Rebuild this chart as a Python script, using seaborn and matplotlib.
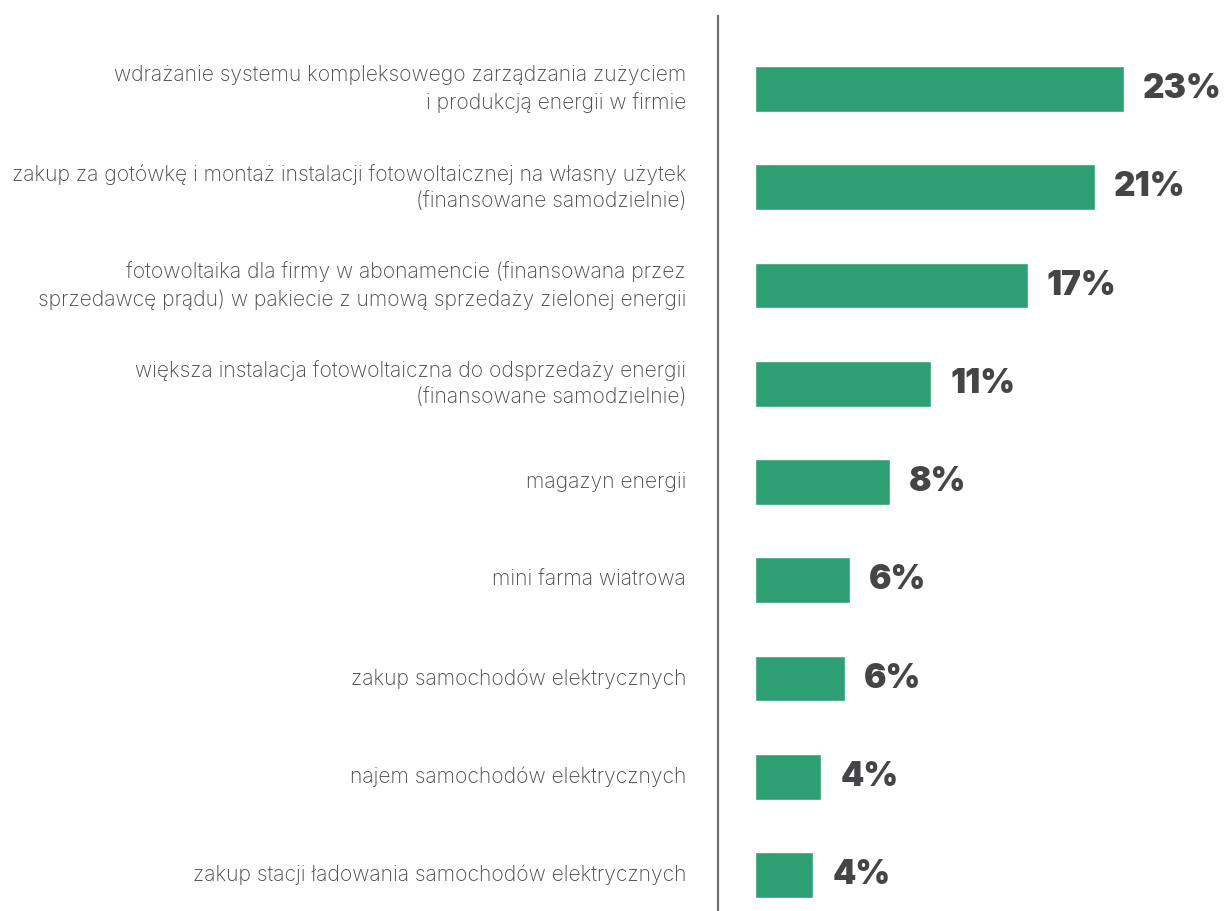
import matplotlib
matplotlib.use("Agg")
import matplotlib.pyplot as plt
import seaborn as sns
import pandas as pd

categories = [
    "wdrażanie systemu kompleksowego zarządzania zużyciem\ni produkcją energii w firmie",
    "zakup za gotówkę i montaż instalacji fotowoltaicznej na własny użytek\n(finansowane samodzielnie)",
    "fotowoltaika dla firmy w abonamencie (finansowana przez\nsprzedawcę prądu) w pakiecie z umową sprzedaży zielonej energii",
    "większa instalacja fotowoltaiczna do odsprzedaży energii\n(finansowane samodzielnie)",
    "magazyn energii",
    "mini farma wiatrowa",
    "zakup samochodów elektrycznych",
    "najem samochodów elektrycznych",
    "zakup stacji ładowania samochodów elektrycznych",
]
values = [23.0, 21.2, 17.0, 11.0, 8.4, 5.9, 5.6, 4.1, 3.6]
value_labels = ["23%", "21%", "17%", "11%", "8%", "6%", "6%", "4%", "4%"]

df = pd.DataFrame({"category": categories, "value": values})

sns.set_theme(style="white")
plt.rcParams["font.family"] = ["Inter", "DejaVu Sans"]

W, H = 1227, 911
fig = plt.figure(figsize=(W / 100, H / 100), dpi=100)
px_per_unit = 16.03
x_left_px, x_right_px = 718, 1225
ax = fig.add_axes([x_left_px / W, 0, (x_right_px - x_left_px) / W, 1])

sns.barplot(data=df, y="category", x="value", orient="h", color="#2E9E73",
            width=0.468, saturation=1, ax=ax)

x0 = -(755 - x_left_px) / px_per_unit
x1 = x0 + (x_right_px - x_left_px) / px_per_unit
ax.set_xlim(x0, x1)
step = 98.25
ax.set_ylim(8 + 36 / step, -89 / step)

for s in ["top", "right", "bottom"]:
    ax.spines[s].set_visible(False)
ax.spines["left"].set_color("#6f6f6f")
ax.spines["left"].set_linewidth(1.6)
ax.spines["left"].set_bounds(-89 / step + 16 / step, 8 + 36 / step)

ax.set_xticks([])
ax.set_xlabel("")
ax.set_ylabel("")
ax.tick_params(axis="y", length=0, pad=23)
for t in ax.get_yticklabels():
    t.set_fontsize(15.2)
    t.set_fontweight("light")
    t.set_color("#4a4a4a")
    t.set_linespacing(1.4)
    t.set_verticalalignment("center")

ax.bar_label(ax.containers[0], labels=value_labels, padding=14,
             fontsize=24, fontweight="black", color="#454547",
             family=["Inter", "DejaVu Sans"])

fig.savefig("out.png", dpi=100, facecolor="white")
